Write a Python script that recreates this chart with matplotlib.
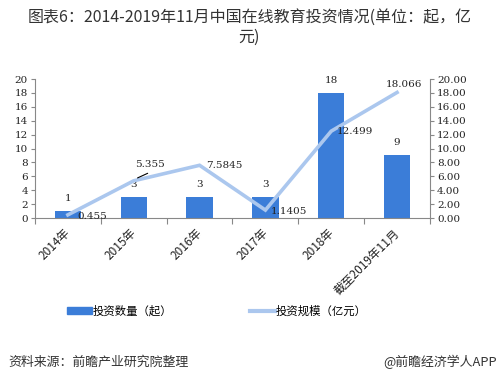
import matplotlib
matplotlib.use("Agg")
import matplotlib.pyplot as plt
import matplotlib.transforms as mtransforms
from matplotlib.lines import Line2D
from matplotlib.patches import Patch

plt.rcParams['font.family'] = ['Noto Sans CJK SC', 'DejaVu Sans']

categories = ["2014年", "2015年", "2016年", "2017年", "2018年", "截至2019年11月"]
counts = [1, 3, 3, 3, 18, 9]
amounts = [0.455, 5.355, 7.5845, 1.1405, 12.499, 18.066]
amount_labels = ["0.455", "5.355", "7.5845", "1.1405", "12.499", "18.066"]
left_ticks = list(range(0, 21, 2))
right_ticks = list(range(0, 21, 2))

bar_color = "#3b7dd8"
line_color = "#abc7ee"
txt = "#222222"
num_font = ['DejaVu Serif', 'Noto Sans CJK SC']

fig = plt.figure(figsize=(4.99, 3.83), dpi=100)
ax = fig.add_axes([0.0701, 0.4308, 0.7916, 0.3629])
ax2 = ax.twinx()

x = list(range(len(categories)))
ax.bar(x, counts, width=0.4, color=bar_color, zorder=2)
ax.set_xlim(-0.5, len(categories) - 0.5)
ax.set_ylim(0, 20)
ax.set_yticks(left_ticks)
ax.set_yticklabels([str(t) for t in left_ticks], family=num_font, fontsize=7.5, color=txt)
ax.set_xticks([i + 0.5 for i in x[:-1]] + [-0.5, len(categories) - 0.5], minor=False)
ax.set_xticklabels([])
ax.set_xticks(x, minor=True)
ax.set_xticklabels(categories, minor=True, rotation=45, ha='right', rotation_mode='anchor',
                   fontsize=8.5, color=txt)
ax.tick_params(axis='x', which='major', length=4, color='#888888', direction='out')
ax.tick_params(axis='x', which='minor', length=0, pad=6)
ax.tick_params(axis='y', length=3, color='#888888', pad=2)
shift = mtransforms.ScaledTranslation(-4 / 100, 0, fig.dpi_scale_trans)
for lab in ax.get_xticklabels(minor=True):
    lab.set_transform(lab.get_transform() + shift)

for s in ['top', 'right']:
    ax.spines[s].set_visible(False)
    ax2.spines[s].set_visible(False)
ax2.spines['left'].set_visible(False)
ax2.spines['bottom'].set_visible(False)
ax.spines['left'].set_color('#888888')
ax.spines['bottom'].set_color('#888888')
ax2.spines['right'].set_visible(True)
ax2.spines['right'].set_color('#888888')

for i, c in enumerate(counts):
    ax.annotate(str(c), (i, c), xytext=(0, 6), textcoords='offset points',
                ha='center', va='bottom', fontsize=7.5, family=num_font, color=txt)

ax2.plot(x, amounts, color=line_color, lw=2.6, zorder=3, solid_joinstyle='miter')
ax2.set_ylim(0, 20)
ax2.set_yticks(right_ticks)
ax2.set_yticklabels([f"{t:.2f}" for t in right_ticks], family=num_font, fontsize=7.5, color=txt)
ax2.tick_params(axis='y', length=3, color='#888888', pad=2)

offsets = [(7, -1, 'left', 'center'), (1, 12, 'left', 'center'), (5, 0, 'left', 'center'),
           (4, -1, 'left', 'center'), (4, 0, 'left', 'center'), (-8, 6, 'left', 'center')]
for i, (v, lab) in enumerate(zip(amounts, amount_labels)):
    dx, dy, ha, va = offsets[i]
    ax2.annotate(lab, (i, v), xytext=(dx, dy), textcoords='offset points',
                 ha=ha, va=va, fontsize=7.5, family=num_font, color=txt)
# leader line for 5.355
ax2.annotate("", xy=(1.02, 5.6), xytext=(1.25, 6.6),
             arrowprops=dict(arrowstyle='-', color='black', lw=0.8))

fig.text(0.5, 0.929, "图表6：2014-2019年11月中国在线教育投资情况(单位：起，亿\n元)",
         ha='center', va='center', fontsize=11.5, color='#333333', linespacing=1.25)

handles = [Patch(color=bar_color), Line2D([0], [0], color=line_color, lw=3)]
fig.legend(handles, ["投资数量（起）", "投资规模（亿元）"], loc='center', ncol=2,
           bbox_to_anchor=(0.434, 0.188), frameon=False, fontsize=8.2, handlelength=2.2,
           handleheight=0.55, columnspacing=6.8, handletextpad=0.05)

fig.text(0.016, 0.055, "资料来源：前瞻产业研究院整理", ha='left', va='center', fontsize=9.3, color='#333333')
fig.text(0.996, 0.055, "@前瞻经济学人APP", ha='right', va='center', fontsize=9.3, color='#333333')

fig.savefig("out.png", dpi=100)
